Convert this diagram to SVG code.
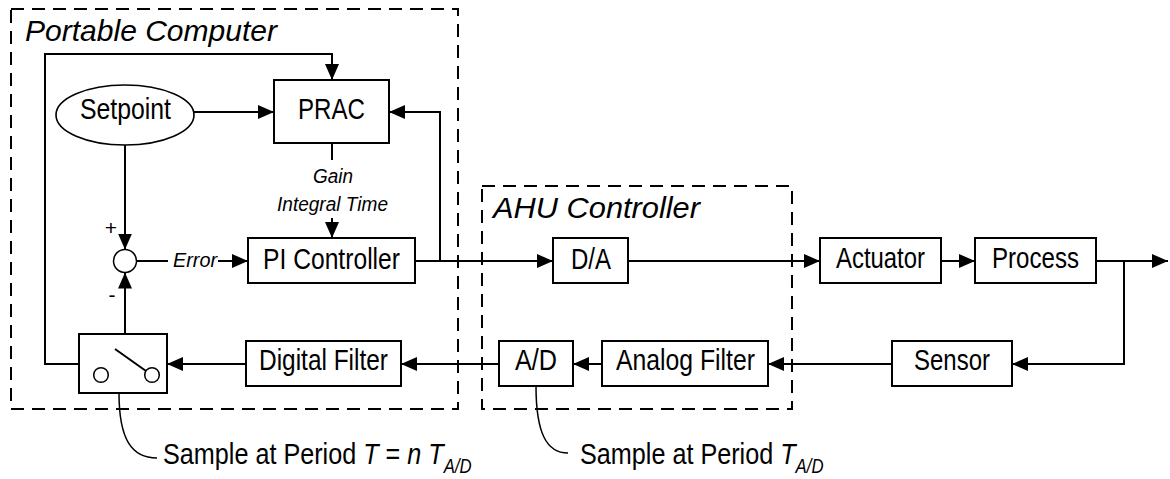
<svg xmlns="http://www.w3.org/2000/svg" width="1170" height="479" viewBox="0 0 1170 479">
<style>
  .bg{fill:#fff}
  .box{fill:#fff;stroke:#000;stroke-width:2}
  .grp{fill:none;stroke:#000;stroke-width:2;stroke-dasharray:13 8}
  .ln{fill:none;stroke:#000;stroke-width:2}
  .thin{fill:none;stroke:#000;stroke-width:1.5}
  .lbl{font-family:"Liberation Sans Narrow","Liberation Sans",Arial,sans-serif;font-size:29px;fill:#000}
  .it{font-family:"Liberation Sans Narrow","Liberation Sans",Arial,sans-serif;font-size:20px;font-style:italic;fill:#000}
  .pm{font-family:"Liberation Sans Narrow","Liberation Sans",Arial,sans-serif;font-size:21px;fill:#000}
  .ttl{font-family:"Liberation Sans",Arial,sans-serif;font-size:30px;font-style:italic;fill:#000}
  .smp{font-family:"Liberation Sans",Arial,sans-serif;font-size:30px;fill:#000}
  .i{font-style:italic}
  .sub{font-size:20px;font-style:italic}
</style>
<defs>
  <marker id="ah" markerUnits="userSpaceOnUse" markerWidth="16" markerHeight="14" refX="16" refY="7" orient="auto">
    <path d="M0,0 L16,7 L0,14 Z" fill="#000"/>
  </marker>
</defs>
<rect class="bg" x="0" y="0" width="1170" height="479"/>

<g id="portable-computer">
  <rect class="grp" x="11" y="9" width="447" height="400"/>
  <text class="ttl" x="25" y="41" textLength="252" lengthAdjust="spacingAndGlyphs">Portable Computer</text>
</g>
<g id="ahu-controller">
  <rect class="grp" x="482" y="186" width="310" height="223"/>
  <text class="ttl" x="493" y="218" textLength="207" lengthAdjust="spacingAndGlyphs">AHU Controller</text>
</g>

<g id="connectors">
  <path class="ln" d="M194,112 H274" marker-end="url(#ah)"/>
  <path class="ln" d="M79,364 H45 V54 H332 V80" marker-end="url(#ah)"/>
  <path class="ln" d="M415,261 H553" marker-end="url(#ah)"/>
  <path class="ln" d="M440,261 V112 H389" marker-end="url(#ah)"/>
  <path class="ln" d="M332,143 V160"/>
  <path class="ln" d="M332,218 V238" marker-end="url(#ah)"/>
  <path class="ln" d="M125,145 V249.5" marker-end="url(#ah)"/>
  <path class="ln" d="M137,261 H168"/>
  <path class="ln" d="M218,261 H248" marker-end="url(#ah)"/>
  <path class="ln" d="M125,334 V272.5" marker-end="url(#ah)"/>
  <path class="ln" d="M246,364 H167" marker-end="url(#ah)"/>
  <path class="ln" d="M499,364 H401" marker-end="url(#ah)"/>
  <path class="ln" d="M602,364 H573" marker-end="url(#ah)"/>
  <path class="ln" d="M892,364 H768" marker-end="url(#ah)"/>
  <path class="ln" d="M628,261 H820" marker-end="url(#ah)"/>
  <path class="ln" d="M941,261 H975" marker-end="url(#ah)"/>
  <path class="ln" d="M1096,261 H1168" marker-end="url(#ah)"/>
  <path class="ln" d="M1124,261 V364 H1012" marker-end="url(#ah)"/>
  <path class="thin" d="M119,393 C119,440 132,458 157,458"/>
  <path class="thin" d="M536,386 C536,434 547,453 568,453"/>
</g>

<g id="setpoint">
  <ellipse class="box" cx="125" cy="115" rx="69" ry="30" style="stroke-width:1.6"/>
  <text class="lbl" x="80" y="119" textLength="91" lengthAdjust="spacingAndGlyphs">Setpoint</text>
</g>
<g id="prac">
  <rect class="box" x="274" y="80" width="115" height="63"/>
  <text class="lbl" x="298" y="119" textLength="67" lengthAdjust="spacingAndGlyphs">PRAC</text>
</g>
<g id="gain-label">
  <text class="it" x="313" y="183" textLength="40" lengthAdjust="spacingAndGlyphs">Gain</text>
  <text class="it" x="277" y="211" textLength="111" lengthAdjust="spacingAndGlyphs">Integral Time</text>
</g>
<g id="sum">
  <circle class="thin" cx="125" cy="261" r="11.5" fill="#fff"/>
  <text class="pm" x="111" y="235" text-anchor="middle">+</text>
  <text class="pm" x="112" y="302" text-anchor="middle">-</text>
</g>
<g id="error-label">
  <text class="it" x="173" y="267" textLength="44" lengthAdjust="spacingAndGlyphs">Error</text>
</g>
<g id="pi-controller">
  <rect class="box" x="248" y="238" width="167" height="45"/>
  <text class="lbl" x="263" y="269" textLength="137" lengthAdjust="spacingAndGlyphs">PI Controller</text>
</g>
<g id="switch">
  <rect class="box" x="79" y="334" width="88" height="59"/>
  <circle class="thin" cx="101" cy="375" r="7.3"/>
  <circle class="thin" cx="152" cy="375" r="7.3"/>
  <path class="ln" d="M115,349 L146,371"/>
</g>
<g id="digital-filter">
  <rect class="box" x="246" y="341" width="155" height="45"/>
  <text class="lbl" x="259" y="370" textLength="129" lengthAdjust="spacingAndGlyphs">Digital Filter</text>
</g>
<g id="da">
  <rect class="box" x="553" y="238" width="75" height="45"/>
  <text class="lbl" x="571" y="269" textLength="40" lengthAdjust="spacingAndGlyphs">D/A</text>
</g>
<g id="actuator">
  <rect class="box" x="820" y="238" width="121" height="45"/>
  <text class="lbl" x="836" y="268" textLength="89" lengthAdjust="spacingAndGlyphs">Actuator</text>
</g>
<g id="process">
  <rect class="box" x="975" y="238" width="121" height="45"/>
  <text class="lbl" x="992" y="268" textLength="87" lengthAdjust="spacingAndGlyphs">Process</text>
</g>
<g id="ad">
  <rect class="box" x="499" y="341" width="74" height="45"/>
  <text class="lbl" x="515" y="370" textLength="42" lengthAdjust="spacingAndGlyphs">A/D</text>
</g>
<g id="analog-filter">
  <rect class="box" x="602" y="341" width="166" height="45"/>
  <text class="lbl" x="616" y="370" textLength="139" lengthAdjust="spacingAndGlyphs">Analog Filter</text>
</g>
<g id="sensor">
  <rect class="box" x="892" y="341" width="120" height="45"/>
  <text class="lbl" x="914" y="370" textLength="76" lengthAdjust="spacingAndGlyphs">Sensor</text>
</g>
<g id="sample-note-1">
  <text class="smp" transform="translate(163,464) scale(0.84,1)" xml:space="preserve">Sample at Period <tspan class="i">T</tspan> = <tspan class="i">n</tspan> <tspan class="i">T</tspan><tspan class="sub" dy="9">A/D</tspan></text>
</g>
<g id="sample-note-2">
  <text class="smp" transform="translate(580,464) scale(0.84,1)" xml:space="preserve">Sample at Period <tspan class="i">T</tspan><tspan class="sub" dy="9">A/D</tspan></text>
</g>
</svg>
